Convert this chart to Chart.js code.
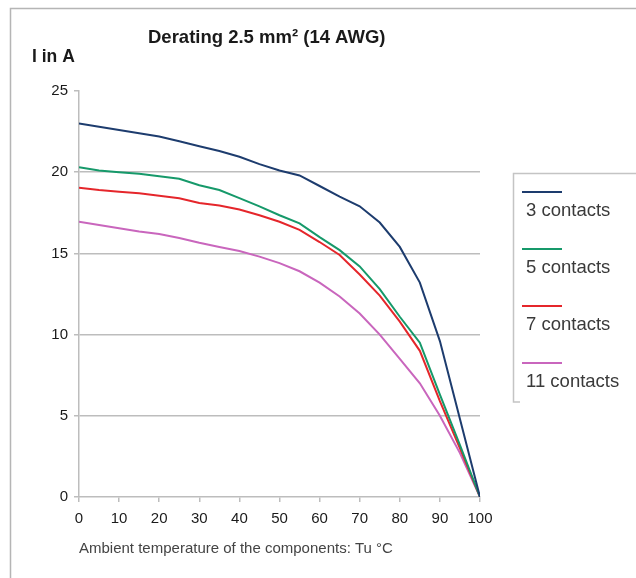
<!DOCTYPE html>
<html>
<head>
<meta charset="utf-8">
<script src="https://cdn.jsdelivr.net/npm/chart.js@4.4.1/dist/chart.umd.min.js"></script>
<style>
  html, body { margin: 0; padding: 0; background: #fff; }
  #wrap { width: 636px; height: 578px; }
</style>
</head>
<body>
<div id="wrap"><canvas id="derating"></canvas></div>
<script>
const temps = [0, 5, 10, 15, 20, 25, 30, 35, 40, 45, 50, 55, 60, 65, 70, 75, 80, 85, 90, 95, 100];
const contacts3 = [23.0, 22.8, 22.6, 22.4, 22.2, 21.9, 21.6, 21.3, 20.95, 20.5, 20.1, 19.8, 19.15, 18.5, 17.9, 16.9, 15.4, 13.2, 9.6, 4.8, 0];
const contacts5 = [20.3, 20.1, 20.0, 19.9, 19.75, 19.6, 19.2, 18.9, 18.4, 17.9, 17.35, 16.85, 16.0, 15.2, 14.2, 12.8, 11.1, 9.5, 6.3, 3.2, 0];
const contacts7 = [19.05, 18.9, 18.8, 18.7, 18.55, 18.4, 18.1, 17.95, 17.7, 17.35, 16.95, 16.45, 15.7, 14.9, 13.7, 12.4, 10.8, 9.0, 5.9, 3.0, 0];
const contacts11 = [16.95, 16.75, 16.55, 16.35, 16.2, 15.95, 15.65, 15.4, 15.15, 14.8, 14.4, 13.9, 13.2, 12.35, 11.3, 10.0, 8.5, 7.0, 5.0, 2.7, 0];
const seriesNames = ['3 contacts', '5 contacts', '7 contacts', '11 contacts'];
const xTicks = [0, 10, 20, 30, 40, 50, 60, 70, 80, 90, 100];
const yTicks = [0, 5, 10, 15, 20, 25];

const colors = ['#1d3c6e', '#16996a', '#e5262b', '#c966bd'];
const gridGrey = '#bdbdbd';
const fontFamily = '"Liberation Sans", Arial, sans-serif';

const toPoints = vals => vals.map((v, i) => ({ x: temps[i], y: v }));

// frame, chart title, y-axis caption and the stacked legend
const decorations = {
    id: 'decorations',
    afterDraw(chart) {
        const ctx = chart.ctx;
        ctx.save();

        ctx.strokeStyle = '#b5b5b5';
        ctx.lineWidth = 1.5;
        ctx.beginPath();
        ctx.moveTo(10.5, 578);
        ctx.lineTo(10.5, 8.5);
        ctx.lineTo(636, 8.5);
        ctx.stroke();

        ctx.fillStyle = '#1a1a1a';
        ctx.textBaseline = 'alphabetic';
        ctx.font = 'bold 18.5px ' + fontFamily;
        ctx.fillText('Derating 2.5 mm² (14 AWG)', 148, 43);
        ctx.font = 'bold 17.5px ' + fontFamily;
        ctx.fillText('I in A', 32, 62);

        // legend box
        ctx.strokeStyle = '#c4c4c4';
        ctx.lineWidth = 1.5;
        ctx.beginPath();
        ctx.moveTo(520, 402);
        ctx.lineTo(513.5, 402);
        ctx.lineTo(513.5, 173.5);
        ctx.lineTo(636, 173.5);
        ctx.stroke();

        ctx.font = '18.5px ' + fontFamily;
        ctx.textBaseline = 'alphabetic';
        chart.data.datasets.forEach((ds, i) => {
            const y = 192 + i * 57;
            ctx.strokeStyle = ds.borderColor;
            ctx.lineWidth = 2;
            ctx.beginPath();
            ctx.moveTo(522, y);
            ctx.lineTo(562, y);
            ctx.stroke();
            ctx.fillStyle = '#3a3a3a';
            ctx.fillText(ds.label, 526, y + 24);
        });
        ctx.restore();
    }
};

new Chart(document.getElementById('derating').getContext('2d'), {
    type: 'line',
    data: {
        datasets: [contacts3, contacts5, contacts7, contacts11].map((vals, i) => ({
            label: seriesNames[i],
            data: toPoints(vals),
            borderColor: colors[i],
            backgroundColor: colors[i],
            borderWidth: 2,
            pointRadius: 0,
            tension: 0
        }))
    },
    options: {
        responsive: true,
        maintainAspectRatio: false,
        animation: false,
        layout: {
            padding: { left: 0, top: 91, right: 156, bottom: 0 }
        },
        plugins: {
            legend: { display: false },
            tooltip: { enabled: false }
        },
        scales: {
            x: {
                type: 'linear',
                min: 0,
                max: 100,
                afterFit: scale => { scale.height = 81; },
                afterBuildTicks: scale => { scale.ticks = xTicks.map(v => ({ value: v })); },
                grid: {
                    color: 'rgba(0,0,0,0)',
                    tickColor: gridGrey,
                    tickLength: 5,
                    lineWidth: 1.5
                },
                border: { color: gridGrey, width: 1.5 },
                ticks: {
                    color: '#1a1a1a',
                    padding: 8,
                    maxRotation: 0,
                    autoSkip: false,
                    font: { family: fontFamily, size: 15 }
                },
                title: {
                    display: true,
                    align: 'start',
                    text: 'Ambient temperature of the components: Tu °C',
                    color: '#444',
                    font: { family: fontFamily, size: 15 },
                    padding: { top: 20, bottom: 20 }
                }
            },
            y: {
                min: 0,
                max: 25,
                afterFit: scale => { scale.width = 79; },
                afterBuildTicks: scale => { scale.ticks = yTicks.map(v => ({ value: v })); },
                grid: {
                    color: ctx => (ctx.tick && (ctx.tick.value === 25 || ctx.tick.value === 0)) ? 'rgba(0,0,0,0)' : gridGrey,
                    tickColor: gridGrey,
                    tickLength: 5,
                    lineWidth: 1.5
                },
                border: { color: gridGrey, width: 1.5 },
                ticks: {
                    color: '#1a1a1a',
                    padding: 6,
                    font: { family: fontFamily, size: 15 }
                }
            }
        }
    },
    plugins: [decorations]
});
</script>
</body>
</html>
